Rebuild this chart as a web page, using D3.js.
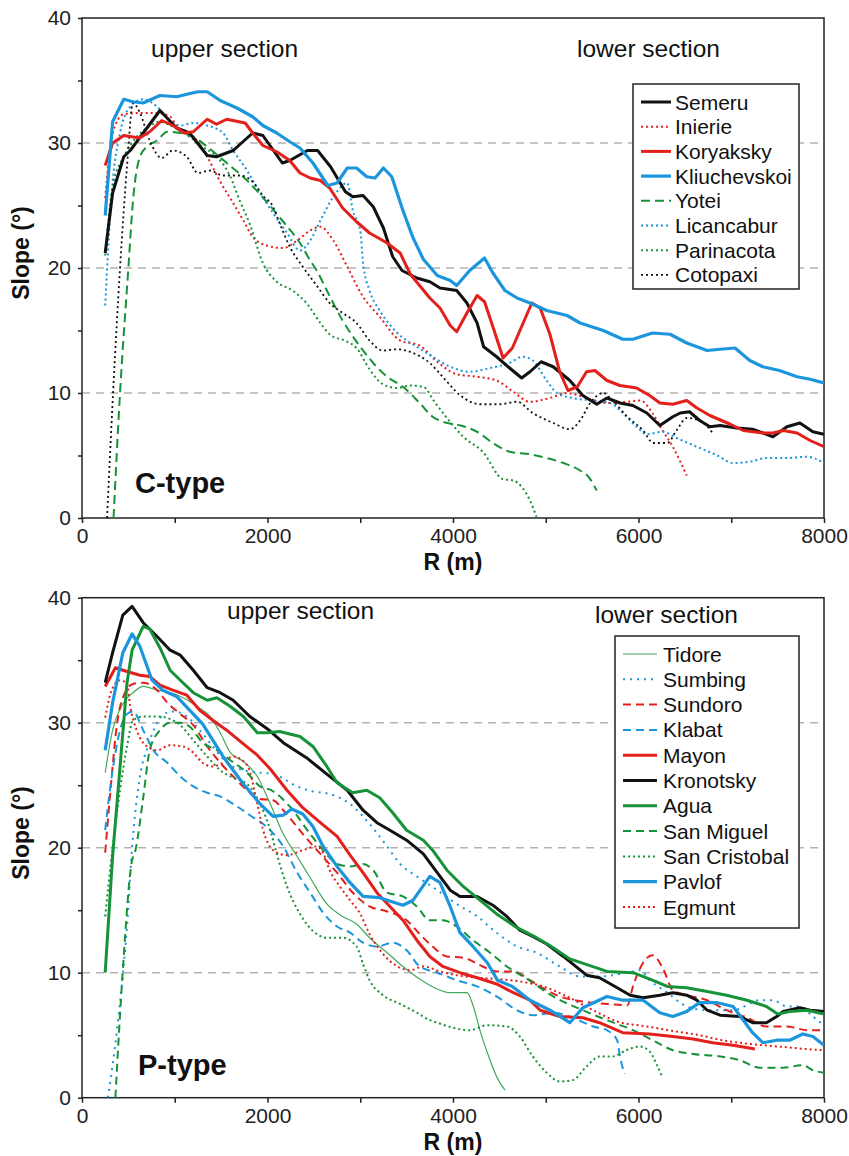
<!DOCTYPE html>
<html>
<head>
<meta charset="utf-8">
<script src="https://cdn.jsdelivr.net/npm/d3@7"></script>
<style>
  body { margin: 0; background: #fff; }
  svg { font-family: "Liberation Sans", Arial, sans-serif; }
  .grid { stroke: #b3b3b3; stroke-width: 1.6; stroke-dasharray: 8,6; }
  .frame { fill: none; stroke: #222; stroke-width: 1.5; }
  .axis text { font-size: 21px; fill: #222; font-family: "Liberation Sans", Arial, sans-serif; }
  .axis line { stroke: #222; stroke-width: 1.5; }
  .axis path { display: none; }
  .axis-title { font-size: 23px; font-weight: bold; fill: #111; }
  .section { font-size: 24.5px; fill: #111; }
  .type { font-size: 29px; font-weight: bold; fill: #111; }
  .legend-box { fill: #fff; stroke: #222; stroke-width: 1.5; }
  .legend-text { font-size: 21px; fill: #111; }
  .series { fill: none; stroke-linejoin: round; }
</style>
</head>
<body>
<svg width="849" height="1156"></svg>
<script>
// R (m), slope (deg)

// C-type
const semeru = [[250,21.2],[330,26],[450,28.9],[520,29.4],[660,30.8],[840,32.6],[1020,31.2],[1160,30.8],[1350,29],[1450,28.9],[1630,29.4],[1840,30.8],[1950,30.6],[2160,28.4],[2240,28.6],[2430,29.4],[2540,29.4],[2680,28.1],[2840,26.1],[2920,25.7],[3030,25.8],[3140,24.9],[3250,23.2],[3350,20.9],[3450,19.8],[3610,19.2],[3750,18.9],[3860,18.4],[4040,18.2],[4150,17.2],[4260,15.6],[4330,13.7],[4470,12.9],[4610,12],[4740,11.2],[4830,11.7],[4950,12.5],[5080,12.1],[5260,11],[5400,9.8],[5550,9.1],[5660,9.6],[5800,9.2],[5940,9],[6090,8.4],[6230,7.4],[6370,8.1],[6450,8.4],[6550,8.5],[6660,7.8],[6770,7.3],[6880,7.4],[7060,7.2],[7230,7.1],[7450,6.5],[7600,7.3],[7740,7.6],[7880,6.9],[8000,6.7]];
const inierie = [[250,25.6],[330,30.8],[450,32.3],[620,32.4],[810,32.4],[950,32.1],[1060,30.9],[1200,30.5],[1350,28.9],[1490,26.9],[1630,25.2],[1740,23.8],[1840,22.5],[1990,21.8],[2170,21.6],[2320,22.2],[2460,23],[2570,23.3],[2710,22.2],[2860,20.1],[3030,17.7],[3210,16.1],[3430,14.2],[3640,13.8],[3830,12.5],[4040,11.5],[4260,11.3],[4470,11],[4650,10.1],[4830,9.3],[5045,9.6],[5230,10],[5440,9.6],[5660,9.2],[5880,9.3],[6020,9.4],[6150,8.4],[6260,7],[6370,5.7],[6520,3.4]];
const koryaksky = [[250,28.2],[330,30],[450,30.6],[620,30.4],[730,30.9],[860,31.8],[980,31.4],[1110,30.8],[1200,30.9],[1350,31.9],[1450,31.5],[1560,31.9],[1760,31.6],[1840,30.8],[1950,29.8],[2100,29.3],[2240,28.6],[2350,27.6],[2460,27.2],[2570,27],[2670,26.4],[2810,24.8],[2960,23.7],[3100,22.8],[3290,22],[3430,21.2],[3540,19.5],[3750,17.6],[3860,16.8],[3970,15.4],[4040,14.9],[4150,16.4],[4260,17.8],[4340,17.3],[4430,15.3],[4540,12.8],[4640,13.6],[4850,17.2],[4940,16.8],[5045,14.7],[5150,11.7],[5240,10.2],[5340,10.5],[5440,11.7],[5530,11.8],[5660,11],[5800,10.6],[5980,10.4],[6120,9.8],[6230,9.2],[6370,9.1],[6520,9.4],[6630,8.8],[6770,8.2],[6990,7.5],[7130,7],[7340,6.8],[7450,6.8],[7560,7],[7710,6.8],[7850,6.2],[8000,5.7]];
const kliuchevskoi = [[250,24.2],[330,31.7],[450,33.5],[550,33.3],[660,33.2],[840,33.8],[1020,33.7],[1130,33.9],[1250,34.1],[1350,34.1],[1490,33.4],[1670,32.8],[1840,32.1],[1950,31.4],[2100,30.8],[2240,30.1],[2350,29.6],[2490,28.4],[2650,26.6],[2750,26.8],[2860,28],[2960,28],[3070,27.3],[3160,27.2],[3250,28],[3340,27.3],[3460,24.6],[3570,22.4],[3680,20.7],[3830,19.4],[3970,19],[4040,18.6],[4180,19.8],[4340,20.8],[4430,19.6],[4560,18.2],[4690,17.6],[4830,17.2],[5010,16.6],[5230,16.2],[5370,15.6],[5620,15],[5830,14.3],[5940,14.3],[6150,14.8],[6340,14.7],[6520,14],[6740,13.4],[6880,13.5],[7040,13.6],[7200,12.6],[7340,12.1],[7520,11.8],[7710,11.3],[7850,11.1],[8000,10.8]];
const yotei = [[340,0],[410,10],[500,20],[550,25.4],[625,28.9],[700,29.7],[810,30.2],[920,30.9],[1060,30.8],[1200,30.5],[1350,29.7],[1560,28.4],[1780,27],[1990,25.3],[2170,23.7],[2350,22],[2460,20.6],[2530,19.8],[2640,18.2],[2810,15.8],[3000,13.7],[3140,12.4],[3290,11.3],[3460,10.5],[3640,9.2],[3780,8.1],[3890,7.7],[4080,7.4],[4260,6.9],[4430,6],[4610,5.3],[4830,5.1],[5010,4.8],[5190,4.4],[5370,3.8],[5460,3.3],[5550,2.2]];
const licancabur = [[250,17],[320,26],[410,30.8],[520,32.9],[660,33.5],[810,32.9],[950,31.8],[1060,31.4],[1200,31.6],[1350,31.4],[1520,30.8],[1630,29.4],[1780,27.8],[1920,26],[2060,24.4],[2210,22.8],[2350,21.4],[2460,22.2],[2570,23.8],[2710,25.7],[2860,26.8],[2920,24.6],[3000,23],[3030,20.4],[3100,18.2],[3210,16.6],[3400,14.8],[3610,13.7],[3780,12.9],[3970,12.1],[4180,11.7],[4400,12],[4610,12.4],[4750,12.9],[4860,12.6],[5010,11],[5120,10],[5290,9.6],[5510,9.4],[5690,9.2],[5830,8.4],[5980,7.3],[6090,6.7],[6260,6.9],[6410,6.4],[6630,5.7],[6850,5],[7020,4.4],[7200,4.5],[7380,4.8],[7600,4.8],[7820,4.9],[8000,4.4]];
const parinacota = [[250,21],[330,26.5],[450,28.9],[590,30.5],[700,31.2],[840,31.7],[980,31.3],[1160,30.5],[1300,29.7],[1455,28.9],[1600,27.3],[1700,25.4],[1810,23.5],[1950,20.4],[2100,18.9],[2270,18.2],[2420,17.2],[2570,15.6],[2670,14.7],[2860,14.1],[2960,13.6],[3100,11.9],[3245,10.7],[3400,10.4],[3540,10.6],[3680,10.5],[3800,9.3],[3935,8],[4110,6.5],[4320,5.3],[4540,3.1],[4650,3],[4750,2.4],[4830,1.4],[4900,0.1]];
const cotopaxi = [[270,0],[335,10],[410,20],[485,28.1],[550,33.2],[625,32.4],[730,30.2],[860,28.8],[980,29.4],[1130,28.9],[1250,27.6],[1380,27.8],[1520,27.4],[1700,27.4],[1840,26.9],[1950,25.8],[2060,24.9],[2130,23.6],[2240,21.7],[2380,20.1],[2530,18.6],[2670,17.2],[2810,16.4],[2960,15.6],[3100,14.2],[3245,13.4],[3400,13.5],[3570,13.2],[3750,12.4],[3900,11.2],[4080,9.8],[4290,9.1],[4500,9.1],[4690,9.3],[4860,8.4],[5080,7.6],[5260,7.1],[5370,7.8],[5480,9.2],[5620,10],[5720,9.4],[5880,8.1],[6050,7],[6160,6],[6310,6],[6410,7],[6520,8],[6660,7.8],[6800,6.8]];

// P-type
const tidore = [[250,26],[330,29.4],[440,31.5],[550,32.4],[660,32.9],[810,32.6],[950,32.4],[1090,32],[1240,31.3],[1380,30.5],[1490,29.2],[1600,27.6],[1740,26.9],[1890,25.7],[2030,23.5],[2170,21.1],[2320,19.3],[2460,17.6],[2640,15.5],[2810,14.5],[2960,13.9],[3100,12.8],[3290,11.6],[3460,10.5],[3640,9.5],[3800,8.8],[3970,8.4],[4150,8.4],[4220,7.3],[4290,5.4],[4400,3],[4470,1.7],[4560,0.6]];
const sumbing = [[280,0],[380,5.6],[485,13.7],[540,20],[625,25.7],[710,28.1],[810,30],[870,30.6],[980,30.9],[1130,30.5],[1270,29.4],[1410,28.1],[1560,26.8],[1740,26.2],[1920,26],[2060,25.9],[2320,24.9],[2490,24.5],[2670,24.3],[2890,23.5],[3100,21.9],[3290,20.1],[3430,18.7],[3610,17.7],[3830,16.6],[4040,15.5],[4260,14.5],[4470,13.2],[4690,12.1],[4900,11.6],[5150,10.5],[5370,9.7],[5580,9.7],[5875,10],[6015,10.2],[6120,9.4],[6310,8.4],[6520,7.3],[6740,7],[7020,7],[7310,7.8],[7450,7.8],[7600,7.3],[7740,7.3],[7880,6.5],[8000,5.8]];
const sundoro = [[250,19.6],[300,24],[380,30],[440,32],[550,33.1],[660,33.2],[810,32.6],[920,31.6],[1060,30.7],[1200,29.8],[1350,28.1],[1490,26.8],[1630,25.7],[1780,24.6],[1920,23.9],[2060,23.8],[2170,23],[2380,21.1],[2570,19.5],[2750,18],[2920,16.4],[3100,15.3],[3290,14.9],[3500,14.2],[3640,13.1],[3780,12.1],[3935,11.3],[4110,11.2],[4320,10.5],[4470,10.1],[4650,10.1],[4830,9.4],[4940,8.9],[5150,8.1],[5400,7.7],[5660,7.5],[5880,7.4],[5940,8.9],[6050,10.8],[6150,11.4],[6260,10.4],[6370,8.6],[6520,8.2],[6740,7.8],[6950,7],[7170,6.4],[7380,5.7],[7600,5.7],[7820,5.4],[8000,5.4]];
const klabat = [[250,21.4],[330,26.2],[410,29.4],[485,30.7],[550,30.9],[660,29.4],[770,27.8],[920,26.8],[1060,25.7],[1200,24.9],[1350,24.4],[1490,24.1],[1630,23.5],[1810,22.6],[2030,21.4],[2170,20.1],[2320,18],[2460,16.4],[2600,14.8],[2750,13.7],[2890,13.2],[3030,12.4],[3180,12.1],[3350,12.4],[3500,11.8],[3640,10.5],[3830,10],[4040,9.4],[4260,8.9],[4470,8.1],[4690,7],[4860,6.6],[5080,6.8],[5290,6.4],[5510,5.7],[5660,5.4],[5770,4.6],[5800,3.3],[5850,1.9]];
const mayon = [[250,32.9],[360,34.4],[485,34.1],[625,33.8],[730,33.7],[840,33],[980,32.6],[1130,32.2],[1270,31],[1410,30.2],[1560,29.4],[1740,28.3],[1890,27.4],[2030,26.3],[2210,24.6],[2380,23.2],[2570,22],[2750,20.9],[2890,19.4],[3030,18],[3180,16.4],[3320,15.3],[3460,14.2],[3610,12.6],[3750,11.3],[3890,10.5],[4075,10],[4260,9.6],[4470,9.1],[4650,8.4],[4830,7.8],[4940,7],[5150,6.5],[5400,6.4],[5580,6],[5830,5.2],[6120,5.1],[6370,4.9],[6590,4.7],[6800,4.4],[7020,4.2],[7255,3.9]];
const kronotsky = [[250,33.2],[330,35.6],[440,38.6],[540,39.3],[660,38],[810,36.9],[950,35.8],[1060,35.4],[1200,34.2],[1350,32.8],[1490,32.4],[1630,31.8],[1810,30.5],[2000,29.5],[2170,28.4],[2420,27.2],[2670,25.7],[2860,24.6],[3030,23],[3180,22],[3320,21.4],[3500,20.6],[3680,19.5],[3830,18],[3970,16.6],[4075,16.1],[4260,16.1],[4430,15.4],[4580,14.5],[4720,13.4],[4860,12.9],[5010,12.3],[5190,11.3],[5440,9.8],[5580,9.6],[5770,8.8],[5910,8.2],[6050,8],[6230,8.2],[6370,8.4],[6520,8.2],[6630,7.8],[6740,7],[6880,6.6],[7090,6.5],[7230,6],[7380,6],[7490,6.5],[7560,6.9],[7740,7.2],[7850,7],[8000,6.9]];
const agua = [[250,10],[330,19.3],[485,33.2],[540,35.8],[660,37.7],[730,37.5],[840,36],[950,34.2],[1060,33.4],[1200,32.4],[1350,31.8],[1455,32],[1600,31.3],[1740,30.5],[1890,29.2],[2000,29.2],[2130,29.3],[2350,28.9],[2490,28.1],[2640,26.5],[2750,25.2],[2920,24.4],[3070,24.6],[3210,24],[3350,22.8],[3500,21.4],[3680,20.6],[3780,19.8],[3935,18.2],[4110,16.9],[4290,15.8],[4470,14.7],[4690,13.6],[4900,12.8],[5040,12.2],[5260,11.1],[5660,10.1],[5940,10],[6150,9.4],[6310,8.9],[6520,8.8],[6740,8.5],[6950,8.2],[7170,7.8],[7380,7.3],[7500,6.7],[7630,6.9],[7820,7],[8000,6.7]];
const sanMiguel = [[360,0],[440,10.2],[540,19],[570,19.6],[660,24],[730,27.8],[840,29.4],[950,30],[1060,30],[1160,29.7],[1300,28.4],[1455,27.8],[1600,27],[1780,26],[1920,24.9],[2040,24.6],[2240,23.3],[2460,21.1],[2600,19.8],[2750,18.7],[2890,18.5],[3030,18.7],[3140,18.2],[3290,16.4],[3460,16.1],[3610,15.3],[3750,14.2],[3890,14.2],[4040,13.7],[4215,12.6],[4400,11.6],[4580,10.5],[4800,9.5],[5080,8.1],[5400,7],[5660,6.2],[5940,5.4],[6150,4.6],[6370,3.8],[6590,3.5],[6880,3.3],[7090,3],[7310,2.4],[7560,2.4],[7770,2.6],[7880,2.2],[8000,2]];
const sanCristobal = [[250,14.5],[330,20],[410,24.6],[485,28.1],[550,30.2],[660,30.5],[810,30.5],[950,30.3],[1060,29.8],[1200,28.6],[1350,27.3],[1490,26.2],[1630,25.6],[1780,25.1],[1920,23.5],[2030,21.4],[2100,19.5],[2210,16.9],[2350,14.7],[2530,13.1],[2640,12.8],[2810,12.8],[2960,12.1],[3030,10.7],[3100,9.4],[3245,8.2],[3430,7.5],[3610,6.8],[3750,6.2],[3830,6],[4000,5.6],[4180,5.4],[4370,5.8],[4580,5.7],[4720,4.9],[4860,3.3],[5010,2],[5150,1.3],[5290,1.4],[5440,2.5],[5580,3.3],[5720,3.3],[5870,3.8],[6010,4.1],[6120,3.7],[6200,2.6],[6260,1.6]];
const pavlof = [[250,27.8],[330,31.6],[440,35.6],[540,37.1],[625,36.1],[755,33.4],[870,32.6],[1020,32.1],[1160,31],[1300,29.9],[1410,28.6],[1520,27.3],[1600,26.5],[1740,25.1],[1920,23.5],[2060,22.5],[2170,22.6],[2260,23.1],[2380,22.7],[2490,21.7],[2600,20.1],[2750,18.5],[2890,17.2],[3030,16.1],[3210,16],[3460,15.4],[3570,15.8],[3750,17.7],[3860,17.2],[3970,15.3],[4075,13.2],[4215,12.1],[4370,10.8],[4480,9.4],[4640,8.9],[4830,7.8],[5045,7],[5260,6],[5400,7.2],[5660,8.1],[5830,7.8],[6050,7.8],[6230,6.8],[6370,6.5],[6520,6.9],[6660,7.6],[6850,7.6],[7020,7.3],[7130,6.2],[7230,5.2],[7340,4.4],[7490,4.6],[7630,4.6],[7770,5.1],[7880,4.9],[8000,4.2]];
const egmunt = [[250,30.4],[320,32.6],[410,33.4],[485,33.1],[520,31.3],[590,29.4],[700,28.1],[810,27.8],[950,28.2],[1090,28.1],[1200,27.6],[1300,26.8],[1410,26.5],[1520,26.8],[1630,27.3],[1780,26.6],[1890,23.5],[1950,21.5],[2060,19.8],[2210,19.4],[2380,19.8],[2530,20.1],[2600,19.6],[2670,18.2],[2780,16.9],[2890,15.8],[3000,14.7],[3100,13.1],[3245,11.5],[3400,10.5],[3540,10.2],[3680,10.5],[3860,10.1],[4040,9.8],[4260,9.6],[4470,9.5],[4720,9.3],[4970,8.9],[5230,8.1],[5510,7],[5770,6.1],[6090,5.7],[6400,5.3],[6660,5],[6900,4.6],[7200,4.3],[7500,4.1],[7800,3.9],[8000,3.8]];

const cNames  = ["Semeru", "Inierie", "Koryaksky", "Kliuchevskoi", "Yotei", "Licancabur", "Parinacota", "Cotopaxi"];
const cValues = [semeru, inierie, koryaksky, kliuchevskoi, yotei, licancabur, parinacota, cotopaxi];
const pNames  = ["Tidore", "Sumbing", "Sundoro", "Klabat", "Mayon", "Kronotsky", "Agua", "San Miguel", "San Cristobal", "Pavlof", "Egmunt"];
const pValues = [tidore, sumbing, sundoro, klabat, mayon, kronotsky, agua, sanMiguel, sanCristobal, pavlof, egmunt];

const xTicks = [0, 1000, 2000, 3000, 4000, 5000, 6000, 7000, 8000];
const yTicks = [0, 5, 10, 15, 20, 25, 30, 35, 40];
const gridValues = [10, 20, 30];

const colors = { black: "#111", red: "#e3201b", blue: "#1b96dc", green: "#169238", lightGreen: "#44a85c" };

// how each volcano is drawn
const styles = {
  "Semeru":        { color: colors.black, width: 3,   dash: null,  kind: "thick" },
  "Inierie":       { color: colors.red,   width: 2,   dash: "2,3", kind: "thin" },
  "Koryaksky":     { color: colors.red,   width: 3,   dash: null,  kind: "thick" },
  "Kliuchevskoi":  { color: colors.blue,  width: 3.2, dash: null,  kind: "thick" },
  "Yotei":         { color: colors.green, width: 2,   dash: "9,5", kind: "thin" },
  "Licancabur":    { color: colors.blue,  width: 2,   dash: "2,3", kind: "thin" },
  "Parinacota":    { color: colors.green, width: 2,   dash: "2,3", kind: "thin" },
  "Cotopaxi":      { color: colors.black, width: 1.8, dash: "2,3", kind: "thin" },
  "Tidore":        { color: colors.lightGreen, width: 1.2, dash: null, kind: "thin" },
  "Sumbing":       { color: colors.blue,  width: 2,   dash: "2,5", kind: "thin" },
  "Sundoro":       { color: colors.red,   width: 2,   dash: "8,5", kind: "thin" },
  "Klabat":        { color: colors.blue,  width: 2,   dash: "8,5", kind: "thin" },
  "Mayon":         { color: colors.red,   width: 3,   dash: null,  kind: "thick" },
  "Kronotsky":     { color: colors.black, width: 3,   dash: null,  kind: "thick" },
  "Agua":          { color: colors.green, width: 3,   dash: null,  kind: "thick" },
  "San Miguel":    { color: colors.green, width: 2,   dash: "8,5", kind: "thin" },
  "San Cristobal": { color: colors.green, width: 2,   dash: "2,3", kind: "thin" },
  "Pavlof":        { color: colors.blue,  width: 3.2, dash: null,  kind: "thick" },
  "Egmunt":        { color: colors.red,   width: 2,   dash: "2,3", kind: "thin" }
};

const svg = d3.select("svg");

const x = d3.scaleLinear().domain([0, 8000]).range([82, 824]);

const panels = [
  {
    id: "c", names: cNames, values: cValues,
    y: d3.scaleLinear().domain([0, 40]).range([518, 18]),
    type: "C-type", typeAt: [135, 493],
    upper: [151, 57], lower: [577, 57],
    yTitle: 253, xTitle: 570,
    legend: { x: 633, y: 84, w: 166, h: 205, first: 102, step: 24.7, line: [641, 671], text: 675 }
  },
  {
    id: "p", names: pNames, values: pValues,
    y: d3.scaleLinear().domain([0, 40]).range([1097.7, 597.7]),
    type: "P-type", typeAt: [138, 1075],
    upper: [227, 619], lower: [595, 623],
    yTitle: 833, xTitle: 1150,
    legend: { x: 615, y: 636, w: 184, h: 292, first: 654, step: 25.3, line: [623, 657], text: 663 }
  }
];

panels.forEach(drawPanel);

function drawPanel(p) {
  const y = p.y;
  const g = svg.append("g").attr("id", "panel-" + p.id);
  const [y0, y1] = y.range();

  g.append("clipPath").attr("id", "clip-" + p.id)
    .append("rect")
    .attr("x", x(0)).attr("y", y1)
    .attr("width", x(8000) - x(0)).attr("height", y0 - y1);

  g.selectAll("line.grid")
    .data(gridValues)
    .enter()
    .append("line")
    .attr("class", "grid")
    .attr("x1", x(0)).attr("x2", x(8000))
    .attr("y1", d => y(d)).attr("y2", d => y(d));

  g.append("g")
    .attr("class", "axis")
    .attr("transform", "translate(0," + y0 + ")")
    .call(d3.axisBottom(x)
      .tickValues(xTicks)
      .tickSize(5)
      .tickPadding(5)
      .tickFormat(d => d % 2000 === 0 ? d : ""));

  g.append("g")
    .attr("class", "axis")
    .attr("transform", "translate(" + x(0) + ",0)")
    .call(d3.axisLeft(y)
      .tickValues(yTicks)
      .tickSize(4)
      .tickPadding(7)
      .tickFormat(d => d % 10 === 0 ? d : ""));

  g.append("rect")
    .attr("class", "frame")
    .attr("x", x(0)).attr("y", y1)
    .attr("width", x(8000) - x(0)).attr("height", y0 - y1);

  const line = d3.line()
    .x(d => x(d[0]))
    .y(d => y(d[1]));

  // thin styles underneath, thick solid lines on top
  const order = p.names.map((n, i) => i)
    .sort((a, b) => (styles[p.names[a]].kind === "thick") - (styles[p.names[b]].kind === "thick"));

  g.append("g")
    .attr("clip-path", "url(#clip-" + p.id + ")")
    .selectAll("path.series")
    .data(order)
    .enter()
    .append("path")
    .attr("class", "series")
    .attr("d", i => {
      const s = styles[p.names[i]];
      return line.curve(s.kind === "thick" ? d3.curveLinear : d3.curveMonotoneX)(p.values[i]);
    })
    .attr("stroke", i => styles[p.names[i]].color)
    .attr("stroke-width", i => styles[p.names[i]].width)
    .attr("stroke-dasharray", i => styles[p.names[i]].dash);

  g.append("text")
    .attr("class", "section")
    .attr("x", p.upper[0]).attr("y", p.upper[1])
    .text("upper section");

  g.append("text")
    .attr("class", "section")
    .attr("x", p.lower[0]).attr("y", p.lower[1])
    .text("lower section");

  g.append("text")
    .attr("class", "type")
    .attr("x", p.typeAt[0]).attr("y", p.typeAt[1])
    .text(p.type);

  g.append("text")
    .attr("class", "axis-title")
    .attr("text-anchor", "middle")
    .attr("transform", "translate(29," + p.yTitle + ") rotate(-90)")
    .text("Slope (°)");

  g.append("text")
    .attr("class", "axis-title")
    .attr("text-anchor", "middle")
    .attr("x", x(4000)).attr("y", p.xTitle)
    .text("R (m)");

  drawLegend(g, p);
}

function drawLegend(g, p) {
  const L = p.legend;
  const lg = g.append("g").attr("class", "legend");

  lg.append("rect")
    .attr("class", "legend-box")
    .attr("x", L.x).attr("y", L.y)
    .attr("width", L.w).attr("height", L.h);

  const items = lg.selectAll("g.item")
    .data(p.names)
    .enter()
    .append("g")
    .attr("class", "item")
    .attr("transform", (d, i) => "translate(0," + (L.first + i * L.step) + ")");

  items.append("line")
    .attr("x1", L.line[0]).attr("x2", L.line[1])
    .attr("y1", 0).attr("y2", 0)
    .attr("stroke", d => styles[d].color)
    .attr("stroke-width", d => styles[d].width)
    .attr("stroke-dasharray", d => styles[d].dash);

  items.append("text")
    .attr("class", "legend-text")
    .attr("x", L.text)
    .attr("y", 7.5)
    .text(d => d);
}
</script>
</body>
</html>
